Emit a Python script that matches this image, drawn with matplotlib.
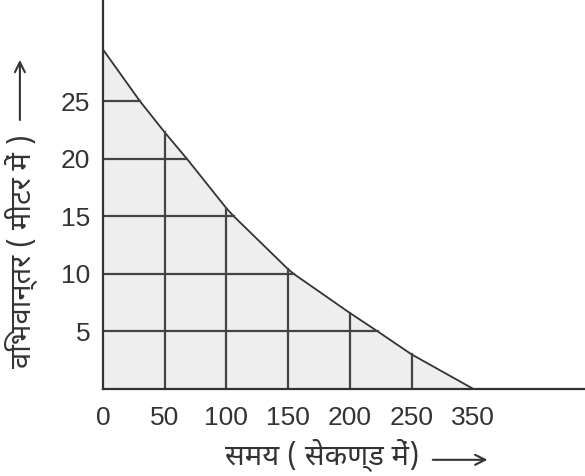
import matplotlib
matplotlib.use("Agg")
import matplotlib.pyplot as plt
from matplotlib import font_manager, ft2font

# tick labels on the time axis (drawn at equal spacing, as in the figure)
time_labels = ["0", "50", "100", "150", "200", "250", "350"]
time_pos = [0, 1, 2, 3, 4, 5, 6]
# displacement read at each time tick
disp_at_ticks = [29.5, 22.3, 15.7, 10.4, 6.6, 3.0, 0.0]
# horizontal levels and where the curve crosses them (axis position)
levels = [25, 20, 15, 10, 5]
level_cross = [0.60, 1.36, 2.12, 3.09, 4.45]
y_ticks = [5, 10, 15, 20, 25]

xlabel = "समय ( सेकण्ड में)"
ylabel = "विभवान्तर ( मीटर में )"


def devanagari_fonts():
    found = set()
    for f in font_manager.fontManager.ttflist:
        try:
            if 0x0938 in ft2font.FT2Font(f.fname).get_charmap():
                found.add(f.name)
        except Exception:
            pass
    return sorted(found)


deva_all = devanagari_fonts()
deva = None
for name in ["Noto Sans Devanagari", "Mukta", "Hind", "Noto Serif Devanagari"]:
    if name in deva_all:
        deva = name
        break
if deva is None and deva_all:
    deva = deva_all[0]
families = [deva, "DejaVu Sans"] if deva else ["DejaVu Sans"]

# curve points: tick values plus the crossings, sorted along x
pts = sorted(list(zip(time_pos, disp_at_ticks)) + list(zip(level_cross, levels)))
cx = [p[0] for p in pts]
cy = [p[1] for p in pts]

fig = plt.figure(figsize=(5.85, 4.76), dpi=100)
ax = fig.add_axes([0.176, 0.183, 0.824, 0.817])

ax.fill_between(cx, cy, 0, color="#eeeeee", lw=0)
ax.plot(cx, cy, color="#333333", lw=1.3)

grid_col = "#444444"
for p, v in zip(time_pos[1:-1], disp_at_ticks[1:-1]):
    ax.plot([p, p], [0, v], color=grid_col, lw=1.6)
for lv, c in zip(levels, level_cross):
    ax.plot([0, c], [lv, lv], color=grid_col, lw=1.6)

ax.set_xlim(0, 7.81)
ax.set_ylim(0, 33.8)
for s in ["top", "right"]:
    ax.spines[s].set_visible(False)
for s in ["left", "bottom"]:
    ax.spines[s].set_color("#333333")
    ax.spines[s].set_linewidth(1.6)

ax.set_xticks(time_pos)
ax.set_xticklabels(time_labels)
ax.set_yticks(y_ticks)
ax.tick_params(length=0, labelsize=19, colors="#333333")
ax.tick_params(axis="x", pad=12)
ax.tick_params(axis="y", pad=9)
for t in ax.get_xticklabels() + ax.get_yticklabels():
    t.set_fontfamily("Liberation Sans")

# axis titles with their arrows
fig.text(0.55, 0.044, xlabel, ha="center", va="center", fontsize=21,
         color="#333333", family=families)
fig.text(0.037, 0.473, ylabel, ha="center", va="center", fontsize=21,
         rotation=90, color="#333333", family=families)
arrow = dict(arrowstyle="->", color="#333333", lw=1.5, mutation_scale=18)
fig.add_artist(matplotlib.patches.FancyArrowPatch(
    (0.735, 0.034), (0.838, 0.034), transform=fig.transFigure, **arrow))
fig.add_artist(matplotlib.patches.FancyArrowPatch(
    (0.034, 0.742), (0.034, 0.880), transform=fig.transFigure, **arrow))

fig.savefig("out.png", dpi=100)
